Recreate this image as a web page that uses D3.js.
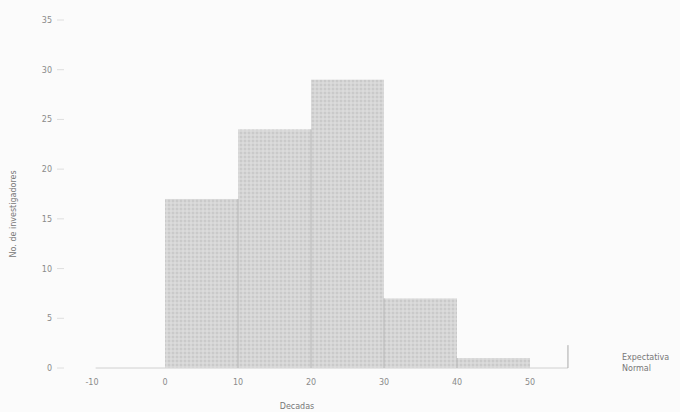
<!DOCTYPE html>
<html>
<head>
<meta charset="utf-8">
<title>Histograma de décadas</title>
<script src="https://d3js.org/d3.v7.min.js"></script>
<style>
  body { margin: 0; background: #fbfbfb; }
  svg { display: block; }
  .tick-label { font-family: "DejaVu Sans", sans-serif; font-size: 8px; fill: #8a8a8a; }
  .axis-title { font-family: "DejaVu Sans", sans-serif; font-size: 8px; fill: #777; }
</style>
</head>
<body>
<div id="chart"></div>
<script>
// histogram bins (decade start) and counts
const binStarts = [0, 10, 20, 30, 40];
const binWidth = 10;
const counts = [17, 24, 29, 7, 1];
const xTicks = [-10, 0, 10, 20, 30, 40, 50];
const yTicks = [0, 5, 10, 15, 20, 25, 30, 35];

const width = 680, height = 412;

const svg = d3.select('#chart').append('svg')
    .attr('width', width)
    .attr('height', height);

// dotted halftone fill, like the scanned original
const defs = svg.append('defs');
const pat = defs.append('pattern')
    .attr('id', 'dots')
    .attr('width', 4)
    .attr('height', 4)
    .attr('patternUnits', 'userSpaceOnUse');
pat.append('rect').attr('width', 4).attr('height', 4).attr('fill', '#d6d6d6');
pat.append('circle').attr('cx', 1).attr('cy', 1).attr('r', 0.9).attr('fill', '#c4c4c4');
pat.append('circle').attr('cx', 3).attr('cy', 3).attr('r', 0.7).attr('fill', '#e4e4e4');

const x = d3.scaleLinear().domain([-10, 50]).range([92, 530]);
const y = d3.scaleLinear().domain([0, 35]).range([368, 20]);

// baseline
svg.append('line')
    .attr('x1', x(-9.5)).attr('x2', x(55.2))
    .attr('y1', y(0)).attr('y2', y(0))
    .attr('stroke', '#d0d0d0').attr('stroke-width', 1);

// right boundary mark
svg.append('line')
    .attr('x1', x(55.2)).attr('x2', x(55.2))
    .attr('y1', y(0)).attr('y2', y(2.3))
    .attr('stroke', '#aaa').attr('stroke-width', 1);

// bars
svg.selectAll('.bar')
    .data(binStarts)
    .enter()
    .append('rect')
    .attr('class', 'bar')
    .attr('x', d => x(d))
    .attr('width', x(binWidth) - x(0))
    .attr('y', (d, i) => y(counts[i]))
    .attr('height', (d, i) => y(0) - y(counts[i]))
    .attr('fill', 'url(#dots)');

// darker bar separators
svg.selectAll('.sep')
    .data(binStarts.slice(1))
    .enter()
    .append('line')
    .attr('x1', d => x(d)).attr('x2', d => x(d))
    .attr('y1', (d, i) => y(Math.min(counts[i], counts[i + 1])))
    .attr('y2', y(0))
    .attr('stroke', '#b8b8b8')
    .attr('stroke-width', 1);

// y axis ticks + labels
svg.selectAll('.ylab')
    .data(yTicks)
    .enter()
    .append('text')
    .attr('class', 'tick-label')
    .attr('x', 52)
    .attr('y', d => y(d) + 3)
    .attr('text-anchor', 'end')
    .text(d => d);

svg.selectAll('.ytick')
    .data(yTicks)
    .enter()
    .append('line')
    .attr('x1', 57).attr('x2', 64)
    .attr('y1', d => y(d)).attr('y2', d => y(d))
    .attr('stroke', '#dedede');

// x axis labels
svg.selectAll('.xlab')
    .data(xTicks)
    .enter()
    .append('text')
    .attr('class', 'tick-label')
    .attr('x', d => x(d))
    .attr('y', 385)
    .attr('text-anchor', 'middle')
    .text(d => d);

// axis titles
svg.append('text')
    .attr('class', 'axis-title')
    .attr('transform', `translate(16, ${y(15.5)}) rotate(-90)`)
    .attr('text-anchor', 'middle')
    .text('No. de investigadores');

svg.append('text')
    .attr('class', 'axis-title')
    .attr('x', 297)
    .attr('y', 409)
    .attr('text-anchor', 'middle')
    .text('Decadas');

// legend
const legend = svg.append('g').attr('transform', 'translate(622, 0)');
legend.append('text').attr('class', 'axis-title').attr('x', 0).attr('y', 360).text('Expectativa');
legend.append('text').attr('class', 'axis-title').attr('x', 0).attr('y', 371).text('Normal');
</script>
</body>
</html>
